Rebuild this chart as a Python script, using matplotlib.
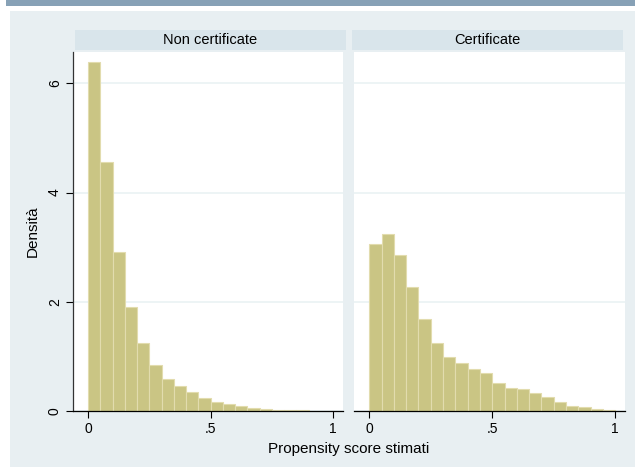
import numpy as np
import matplotlib
matplotlib.use("Agg")
import matplotlib.pyplot as plt
from matplotlib.patches import Rectangle

plt.rcParams["font.family"] = ["Liberation Sans", "DejaVu Sans"]

# bins of width 0.05 from 0 to 1
bin_edges = [round(0.05 * i, 2) for i in range(21)]

# density
dens_non_cert = [6.40, 4.56, 2.92, 1.91, 1.24, 0.84, 0.59, 0.45, 0.34, 0.23,
                 0.165, 0.13, 0.086, 0.055, 0.03, 0.02, 0.01, 0.01, 0.0, 0.0]
dens_cert = [3.05, 3.25, 2.85, 2.28, 1.68, 1.245, 0.99, 0.87, 0.775, 0.69,
             0.51, 0.43, 0.40, 0.335, 0.256, 0.165, 0.09, 0.08, 0.03, 0.013]

panel_titles = ["Non certificate", "Certificate"]
x_ticks = [0, 0.5, 1]
x_ticklabels = ["0", ".5", "1"]
y_ticks = [0, 2, 4, 6]

W, H = 635, 467
fig = plt.figure(figsize=(W / 100, H / 100), dpi=100)
fig.patch.set_facecolor("white")

def box(x0, y0, x1, y1):
    # pixel box -> figure fraction [left, bottom, width, height]
    return [x0 / W, 1 - y1 / H, (x1 - x0) / W, (y1 - y0) / H]

# asse di sfondo in coordinate pixel
bax = fig.add_axes([0, 0, 1, 1], zorder=-5)
bax.set_xlim(0, W)
bax.set_ylim(H, 0)
bax.axis("off")
bax.add_patch(Rectangle((10, 11), W - 10, H - 11, facecolor="#e8eff2", edgecolor="none"))
bax.add_patch(Rectangle((6, 0), W - 6, 6, facecolor="#87a1b6", edgecolor="none"))
bax.text(17, 2.5, "entrate", color="white", fontsize=11, fontweight="bold",
         va="bottom", ha="left")

bar_col = "#cac584"
edge_col = "#e2dcae"
strip_col = "#d9e5eb"

panels = [(73, 343, dens_non_cert, (75, 346)), (354, 625, dens_cert, (352, 623))]
for i, (x0, x1, dens, strip) in enumerate(panels):
    ax = fig.add_axes(box(x0, 52, x1, 411))
    ax.set_facecolor("white")
    ax.bar(bin_edges[:-1], dens, width=0.05, align="edge", color=bar_col,
           edgecolor=edge_col, linewidth=0.8, zorder=2)
    ax.set_xlim(-0.062, 1.04)
    ax.set_ylim(0, 6.575)
    ax.set_yticks(y_ticks)
    ax.set_xticks(x_ticks)
    ax.set_xticklabels(x_ticklabels, fontsize=10)
    ax.grid(axis="y", color="#eaf2f3", linewidth=1.2, zorder=1)
    ax.set_axisbelow(True)
    for s in ["top", "right"]:
        ax.spines[s].set_visible(False)
    ax.spines["bottom"].set_color("black")
    ax.spines["bottom"].set_linewidth(0.9)
    ax.tick_params(axis="x", length=5, width=0.8, pad=3)
    if i == 0:
        ax.spines["left"].set_color("#333333")
        ax.spines["left"].set_linewidth(0.9)
        ax.set_yticklabels([str(t) for t in y_ticks], rotation=90, va="center", fontsize=10)
        ax.tick_params(axis="y", length=5, width=0.8, pad=3)
        ax.set_ylabel("Densità", fontsize=11, labelpad=6)
    else:
        ax.spines["left"].set_visible(False)
        ax.tick_params(axis="y", left=False, labelleft=False)

    # strip del titolo
    sax = fig.add_axes(box(strip[0], 30, strip[1], 50))
    sax.set_facecolor(strip_col)
    sax.set_xticks([])
    sax.set_yticks([])
    for s in sax.spines.values():
        s.set_visible(False)
    sax.text(0.5, 0.5, panel_titles[i], ha="center", va="center", fontsize=10.5,
             transform=sax.transAxes)

fig.text(349 / W, 1 - 449 / H, "Propensity score stimati", ha="center", va="center",
         fontsize=11)

fig.savefig("out.png", dpi=100, facecolor=fig.get_facecolor())
